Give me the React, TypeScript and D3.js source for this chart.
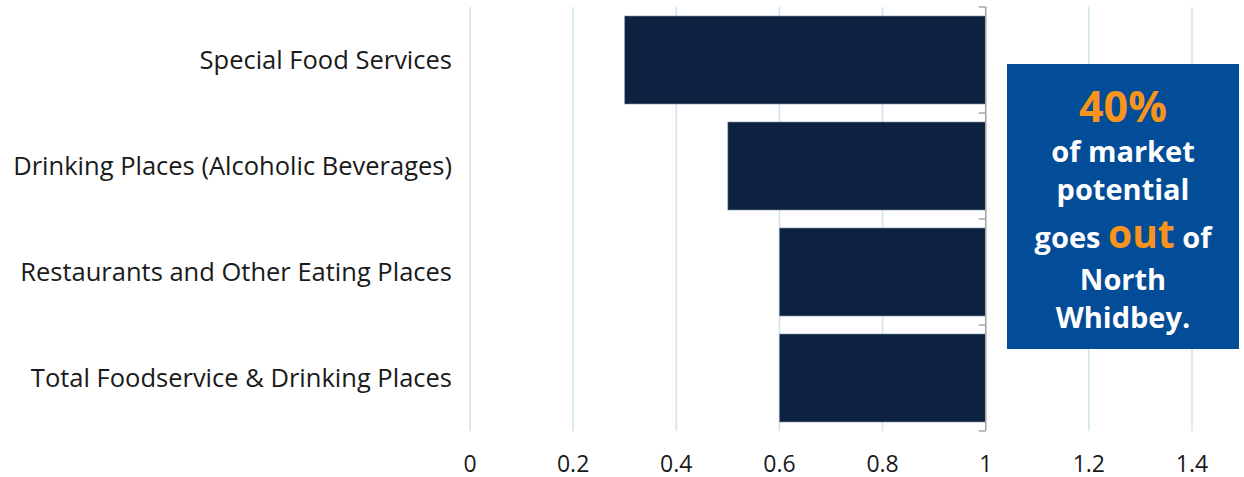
import React from 'react';
import { scaleLinear, scaleBand, range } from 'd3';

const width = 1244;
const height = 477;

// categories top to bottom
const categories = [
  'Special Food Services',
  'Drinking Places (Alcoholic Beverages)',
  'Restaurants and Other Eating Places',
  'Total Foodservice & Drinking Places',
];
// captured share (hidden part of the stack) and leakage share (dark bar)
const captured = [0.3, 0.5, 0.6, 0.6];
const leakage = [0.7, 0.5, 0.4, 0.4];
const xTicks = [0, 0.2, 0.4, 0.6, 0.8, 1, 1.2, 1.4];

const calloutLines = [
  [{ t: '40%', big: true }],
  [{ t: 'of market', big: false }],
  [{ t: 'potential', big: false }],
  [{ t: 'goes ', big: false }, { t: 'out', big: true }, { t: ' of', big: false }],
  [{ t: 'North', big: false }],
  [{ t: 'Whidbey.', big: false }],
];

const navy = '#0d2240';
const orange = '#f7941d';
const boxBlue = '#034c97';

const App = () => {
  const x = scaleLinear().domain([0, 1.4]).range([470, 1192]);
  const y = scaleBand().domain(categories).range([7, 431]).paddingInner(0.17).paddingOuter(0.085);
  const step = y.step();
  const top = 7;

  const baselines = [122, 162, 200, 248, 290, 328];

  return (
    <svg width={width} height={height} style={{ position: 'absolute', left: 0, top: 0 }}
      fontFamily="'Open Sans', sans-serif">
      {/* gridlines */}
      <g>
        {xTicks.map(t => (
          <line key={t} x1={x(t)} x2={x(t)} y1={top} y2={top + step * categories.length}
            stroke="#cfe4f1" strokeWidth={1.5} />
        ))}
      </g>
      {/* bars */}
      <g>
        {categories.map((c, i) => (
          <rect key={c} x={x(captured[i])} y={y(c)} width={x(captured[i] + leakage[i]) - x(captured[i])}
            height={y.bandwidth()} fill={navy} stroke="#7f8ea3" strokeWidth={0.6} />
        ))}
      </g>
      {/* category axis at 1 */}
      <g stroke="#a6a6a6" strokeWidth={1.5} fill="none">
        <line x1={x(1)} x2={x(1)} y1={top} y2={top + step * categories.length} />
        {range(categories.length + 1).map(i => (
          <line key={i} x1={x(1) - 7} x2={x(1)} y1={top + i * step} y2={top + i * step} />
        ))}
      </g>
      {/* category labels */}
      <g fontSize={25.5} fill="#1a1a1a" textAnchor="end">
        {categories.map(c => (
          <text key={c} x={452} y={(y(c) as number) + y.bandwidth() / 2} dy="0.35em">{c}</text>
        ))}
      </g>
      {/* value ticks */}
      <g fontSize={23} fill="#1a1a1a" textAnchor="middle">
        {xTicks.map(t => (
          <text key={t} x={x(t)} y={472}>{String(t)}</text>
        ))}
      </g>
      {/* callout */}
      <rect x={1007} y={64} width={232} height={285} fill={boxBlue} />
      <g fontWeight="bold" textAnchor="middle" fill="#ffffff">
        {calloutLines.map((line, i) => (
          <text key={i} x={1123} y={baselines[i]} fontSize={29}>
            {line.map((s, j) => (
              <tspan key={j} fill={s.big ? orange : '#ffffff'} fontSize={s.big ? (i === 0 ? 43 : 39) : 29}>{s.t}</tspan>
            ))}
          </text>
        ))}
      </g>
    </svg>
  );
};

export default App;
